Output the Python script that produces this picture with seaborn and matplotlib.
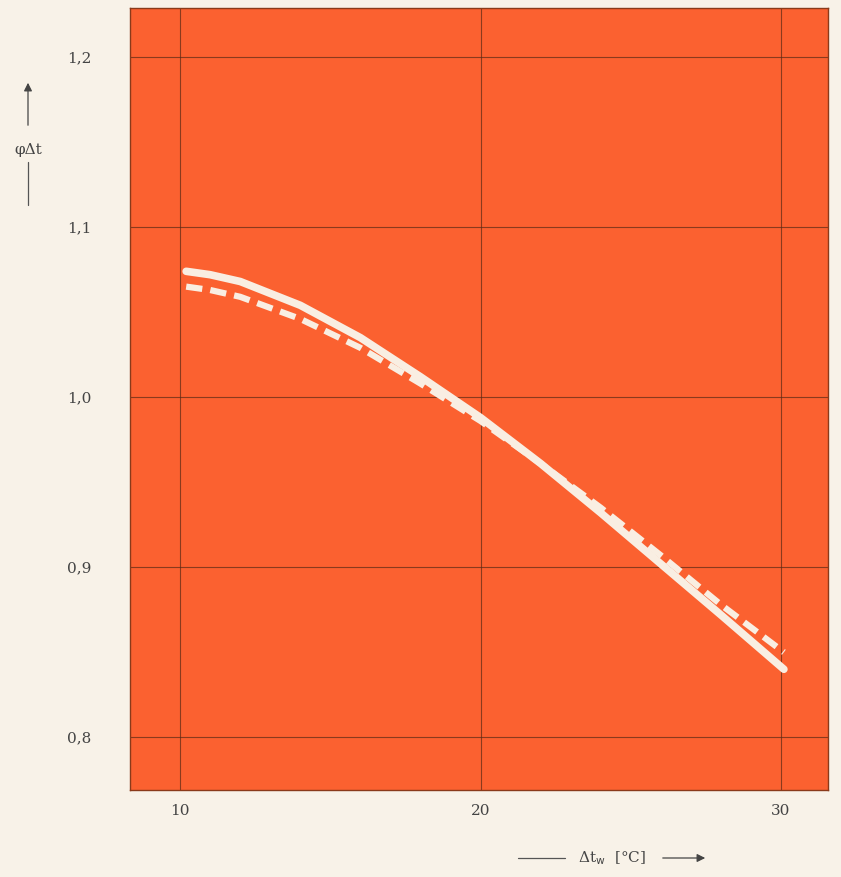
import numpy as np
import pandas as pd
import seaborn as sns
import matplotlib.pyplot as plt

# values
dtw = [10.2, 11, 12, 14, 16, 18, 20, 22, 24, 26, 28, 30.1]
phi_solid = [1.074, 1.072, 1.068, 1.054, 1.035, 1.012, 0.988, 0.961, 0.932, 0.902, 0.872, 0.840]
phi_dashed = [1.065, 1.063, 1.059, 1.046, 1.029, 1.008, 0.986, 0.961, 0.935, 0.907, 0.878, 0.850]
xticks = [10, 20, 30]
yticks = [0.8, 0.9, 1.0, 1.1, 1.2]
ytick_labels = ["0,8", "0,9", "1,0", "1,1", "1,2"]

sns.set_style("white")
plt.rcParams["font.family"] = ["DejaVu Serif"]

paper = "#f8f2e8"
orange = "#fb6130"
line_col = "#f9eee2"

fig = plt.figure(figsize=(8.41, 8.77), dpi=100, facecolor=paper)
ax = fig.add_axes([0.1546, 0.0992, 0.83, 0.892])
ax.set_facecolor(orange)

df = pd.DataFrame({"dtw": dtw, "solid": phi_solid, "dashed": phi_dashed})
sns.lineplot(data=df, x="dtw", y="solid", ax=ax, color=line_col, lw=5.5,
             solid_capstyle="round", solid_joinstyle="round", zorder=3)
sns.lineplot(data=df, x="dtw", y="dashed", ax=ax, color=line_col, lw=4.5,
             zorder=3)
ax.lines[-1].set_dashes([2.6, 1.3])

ax.set_xlim(8.33, 31.57)
ax.set_ylim(0.769, 1.229)
ax.set_xticks(xticks)
ax.set_xticklabels([str(t) for t in xticks])
ax.set_yticks(yticks)
ax.set_yticklabels(ytick_labels)
ax.grid(True, color="#5a2a15", lw=0.8, alpha=0.7)
ax.tick_params(axis="both", length=0, labelsize=11, colors="#444444")
ax.tick_params(axis="y", pad=28)
ax.tick_params(axis="x", pad=10)
for s in ax.spines.values():
    s.set_color("#8a3a1a")
    s.set_linewidth(1.0)
ax.set_xlabel("")
ax.set_ylabel("")

# y axis label with arrow
fig.text(28 / 841, 1 - 150 / 877, "φΔt", ha="center", va="center",
         fontsize=11, color="#444444")
fig.add_artist(plt.Line2D([28 / 841, 28 / 841], [1 - 162 / 877, 1 - 205 / 877],
                          color="#555555", lw=0.9))
ax.annotate("", xy=(28 / 841, 1 - 80 / 877), xytext=(28 / 841, 1 - 128 / 877),
            xycoords="figure fraction", textcoords="figure fraction",
            arrowprops=dict(arrowstyle="-|>", color="#444444", lw=0.9,
                            mutation_scale=12))

# x axis label with arrow
fig.text(612 / 841, 1 - 858 / 877, "Δt$_\\mathrm{w}$  [°C]", ha="center",
         va="center", fontsize=11, color="#444444")
fig.add_artist(plt.Line2D([518 / 841, 565 / 841], [1 - 858 / 877, 1 - 858 / 877],
                          color="#555555", lw=0.9))
ax.annotate("", xy=(708 / 841, 1 - 858 / 877), xytext=(660 / 841, 1 - 858 / 877),
            xycoords="figure fraction", textcoords="figure fraction",
            arrowprops=dict(arrowstyle="-|>", color="#444444", lw=0.9,
                            mutation_scale=12))

fig.savefig("out.png", dpi=100, facecolor=paper)
